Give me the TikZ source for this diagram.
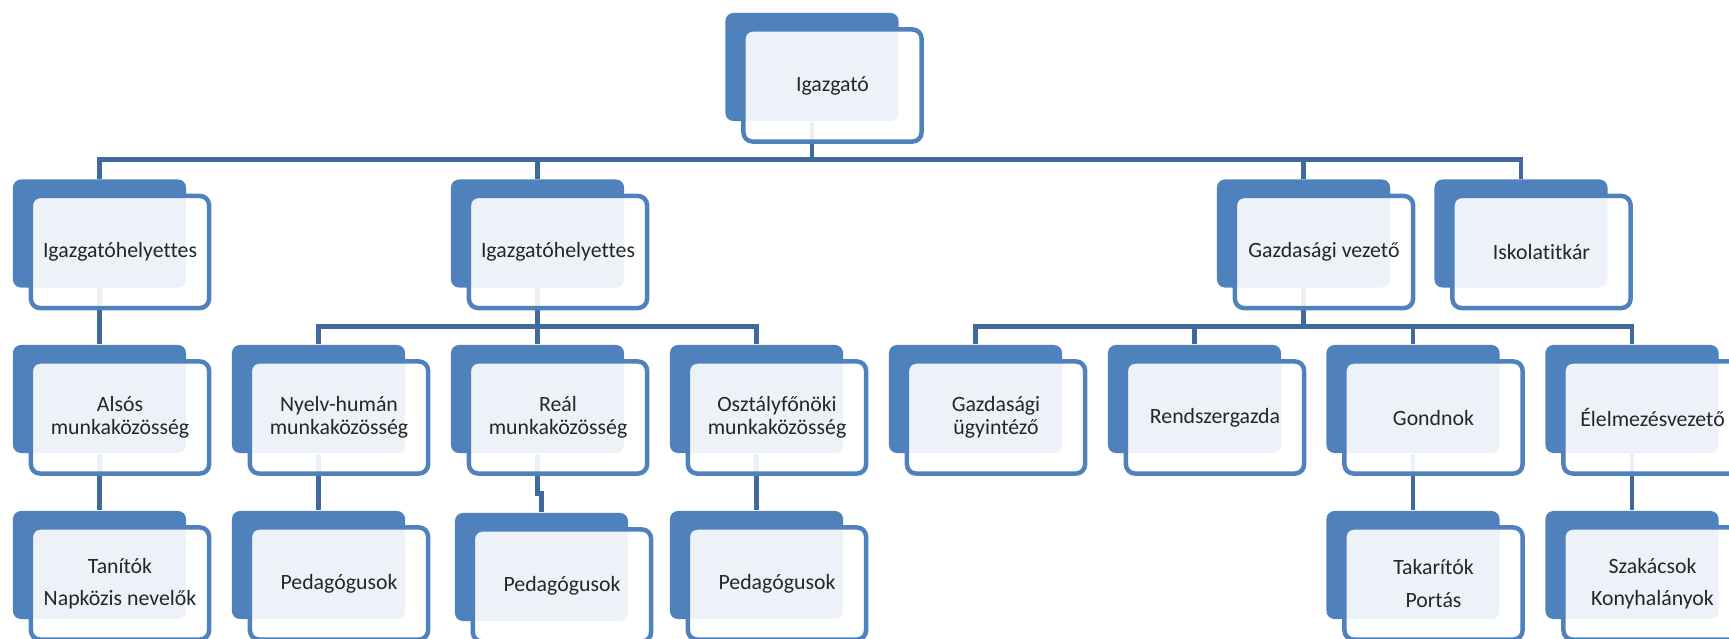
\documentclass[tikz,border=0pt]{standalone}
\usepackage{fontspec}
\setmainfont{Carlito}[Ligatures=NoCommon]
\usepackage{tikz}
\definecolor{boxblue}{HTML}{4F81BD}
\definecolor{linkblue}{HTML}{41699C}
\definecolor{inkgray}{HTML}{262626}
\tikzset{
BACK/.style={draw=none, fill=boxblue, rounded corners=0.8mm, inner sep=0pt,
	minimum width=1.73cm, minimum height=1.08cm},
CARD/.style={draw=boxblue, line width=0.45mm, fill=white, fill opacity=0.9, text opacity=1,
	rounded corners=0.9mm, inner sep=0pt, minimum width=1.78cm, minimum height=1.12cm,
	align=center, text=inkgray, font=\fontsize{6.2pt}{6.6pt}\selectfont},
LINK/.style={draw=linkblue, line width=0.45mm},
}
\begin{document}
\begin{tikzpicture}[x=0.01cm,y=-0.01cm]
	\useasboundingbox (0,0) rectangle (1729,639);
	\clip (0,0) rectangle (1729,639);
	%back plates
	\node[BACK] (igazgato) at (812,67) {};
	\node[BACK] (helyettesA) at (99.5,233.5) {};
	\node[BACK] (helyettesB) at (537.5,233.5) {};
	\node[BACK] (gazdvez) at (1303.5,233.5) {};
	\node[BACK] (titkar) at (1521,233.5) {};
	\node[BACK] (also) at (99.5,399) {};
	\node[BACK] (nyelv) at (318.5,399) {};
	\node[BACK] (real) at (537.5,399) {};
	\node[BACK] (osztfo) at (756.5,399) {};
	\node[BACK] (ugyint) at (975.5,399) {};
	\node[BACK] (rendszer) at (1194.5,399) {};
	\node[BACK] (gondnok) at (1413,399) {};
	\node[BACK] (elelm) at (1632,399) {};
	\node[BACK] (tanitok) at (99.5,565) {};
	\node[BACK] (pedNy) at (318.5,565) {};
	\node[BACK] (pedRe) at (541.5,567) {};
	\node[BACK] (pedOf) at (756.5,565) {};
	\node[BACK] (takarit) at (1413,565) {};
	\node[BACK] (szakacs) at (1632,565) {};
	%links
	\draw[LINK] (igazgato.south) -- ++(0,38) coordinate (busTop);
	\draw[LINK] (helyettesA.north) |- (busTop);
	\draw[LINK] (helyettesB.north) |- (busTop);
	\draw[LINK] (gazdvez.north) |- (busTop);
	\draw[LINK] (titkar.north) |- (busTop);
	\draw[LINK] (helyettesA.south) -- (also.north);
	\draw[LINK] (helyettesB.south) -- ++(0,38.5) coordinate (busPed);
	\draw[LINK] (nyelv.north) |- (busPed);
	\draw[LINK] (real.north) |- (busPed);
	\draw[LINK] (osztfo.north) |- (busPed);
	\draw[LINK] (gazdvez.south) -- ++(0,38.5) coordinate (busGazd);
	\draw[LINK] (ugyint.north) |- (busGazd);
	\draw[LINK] (rendszer.north) |- (busGazd);
	\draw[LINK] (gondnok.north) |- (busGazd);
	\draw[LINK] (elelm.north) |- (busGazd);
	\draw[LINK] (also.south) -- (tanitok.north);
	\draw[LINK] (nyelv.south) -- (pedNy.north);
	\draw[LINK] (real.south) -- ++(0,40) -| (pedRe.north);
	\draw[LINK] (osztfo.south) -- (pedOf.north);
	\draw[LINK] (gondnok.south) -- (takarit.north);
	\draw[LINK] (elelm.south) -- (szakacs.north);
	%cards
	\node[CARD] (igazgatoT) at ([shift={(20.5,18.5)}]igazgato) {Igazgató};
	\node[CARD] (helyettesAT) at ([shift={(20.5,18.5)}]helyettesA) {Igazgatóhelyettes};
	\node[CARD] (helyettesBT) at ([shift={(20.5,18.5)}]helyettesB) {Igazgatóhelyettes};
	\node[CARD] (gazdvezT) at ([shift={(20.5,18.5)}]gazdvez) {Gazdasági vezető};
	\node[CARD] (titkarT) at ([shift={(20.5,18.5)}]titkar) {Iskolatitkár};
	\node[CARD] (alsoT) at ([shift={(20.5,18.5)}]also) {Alsós\\munkaközösség};
	\node[CARD] (nyelvT) at ([shift={(20.5,18.5)}]nyelv) {Nyelv-humán\\munkaközösség};
	\node[CARD] (realT) at ([shift={(20.5,18.5)}]real) {Reál\\munkaközösség};
	\node[CARD] (osztfoT) at ([shift={(20.5,18.5)}]osztfo) {Osztályfőnöki\\munkaközösség};
	\node[CARD] (ugyintT) at ([shift={(20.5,18.5)}]ugyint) {Gazdasági\\ügyintéző};
	\node[CARD] (rendszerT) at ([shift={(20.5,18.5)}]rendszer) {Rendszergazda};
	\node[CARD] (gondnokT) at ([shift={(20.5,18.5)}]gondnok) {Gondnok};
	\node[CARD] (elelmT) at ([shift={(20.5,18.5)}]elelm) {Élelmezésvezető};
	\node[CARD] (tanitokT) at ([shift={(20.5,18.5)}]tanitok) {Tanítók\\[2.6pt]Napközis nevelők};
	\node[CARD] (pedNyT) at ([shift={(20.5,18.5)}]pedNy) {Pedagógusok};
	\node[CARD] (pedReT) at ([shift={(20.5,18.5)}]pedRe) {Pedagógusok};
	\node[CARD] (pedOfT) at ([shift={(20.5,18.5)}]pedOf) {Pedagógusok};
	\node[CARD] (takaritT) at ([shift={(20.5,18.5)}]takarit) {Takarítók\\[2.6pt]Portás};
	\node[CARD] (szakacsT) at ([shift={(20.5,18.5)}]szakacs) {Szakácsok\\[2.6pt]Konyhalányok};
\end{tikzpicture}
\end{document}
